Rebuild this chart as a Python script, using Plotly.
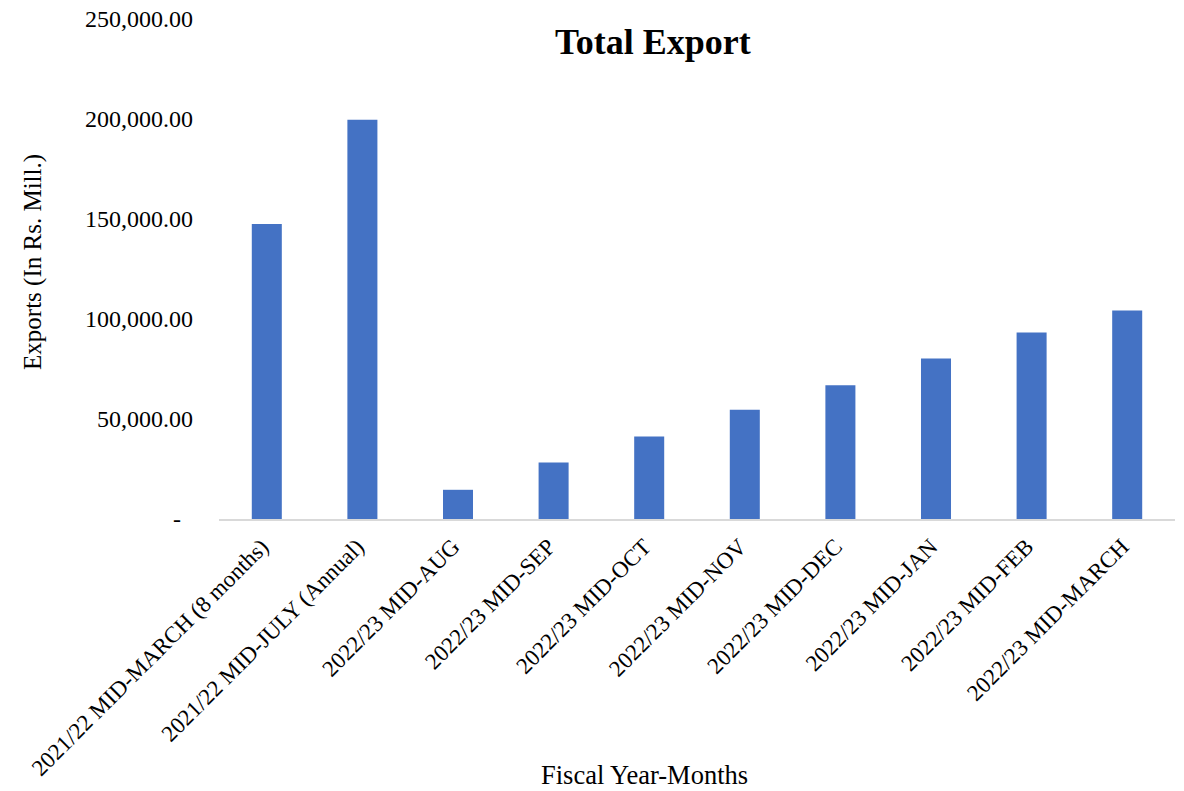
import plotly.graph_objects as go

categories = [
    "2021/22 MID-MARCH (8 months)",
    "2021/22 MID-JULY (Annual)",
    "2022/23 MID-AUG",
    "2022/23 MID-SEP",
    "2022/23 MID-OCT",
    "2022/23 MID-NOV",
    "2022/23 MID-DEC",
    "2022/23 MID-JAN",
    "2022/23 MID-FEB",
    "2022/23 MID-MARCH",
]
exports = [147500, 199600, 14600, 28300, 41300, 54600, 66900, 80300, 93300, 104300]

y_tickvals = [0, 50000, 100000, 150000, 200000, 250000]
y_ticktext = ["-\u00a0\u00a0", "50,000.00", "100,000.00", "150,000.00", "200,000.00", "250,000.00"]

FONT = "Liberation Serif, Times New Roman, serif"

fig = go.Figure(
    go.Bar(
        x=categories,
        y=exports,
        marker=dict(color="#4472C4", line=dict(width=0)),
    )
)

fig.update_layout(
    width=1184,
    height=791,
    margin=dict(l=219, r=9, t=19, b=272),
    paper_bgcolor="white",
    plot_bgcolor="white",
    bargap=0.686,
    showlegend=False,
    font=dict(family=FONT, color="black"),
)

fig.update_xaxes(
    tickangle=-45,
    tickfont=dict(family=FONT, size=23, color="black"),
    showline=True,
    linecolor="#D9D9D9",
    linewidth=2,
    ticks="",
    showgrid=False,
    zeroline=False,
    ticklabelstandoff=3,
    ticklabelshift=-5,
    automargin=False,
)
fig.update_yaxes(
    range=[0, 250000],
    tickvals=y_tickvals,
    ticktext=y_ticktext,
    tickfont=dict(family=FONT, size=24, color="black"),
    showline=False,
    showgrid=False,
    zeroline=False,
    ticks="",
    ticklabelstandoff=25,
    automargin=False,
)

fig.add_annotation(
    text="<b>Total Export</b>", xref="paper", yref="paper",
    x=(653 - 219) / 955.6, y=(519 - 42) / 500,
    xanchor="center", yanchor="middle", showarrow=False,
    font=dict(family=FONT, size=36, color="black"),
)
fig.add_annotation(
    text="Fiscal Year-Months", xref="paper", yref="paper",
    x=(644 - 219) / 955.6, y=(519 - 775) / 500,
    xanchor="center", yanchor="middle", showarrow=False,
    font=dict(family=FONT, size=26.5, color="black"),
)
fig.add_annotation(
    text="Exports (In Rs. Mill.)", xref="paper", yref="paper",
    x=(33 - 219) / 955.6, y=(519 - 262) / 500,
    xanchor="center", yanchor="middle", textangle=-90, showarrow=False,
    font=dict(family=FONT, size=25, color="black"),
)

fig.write_html("out.html")
